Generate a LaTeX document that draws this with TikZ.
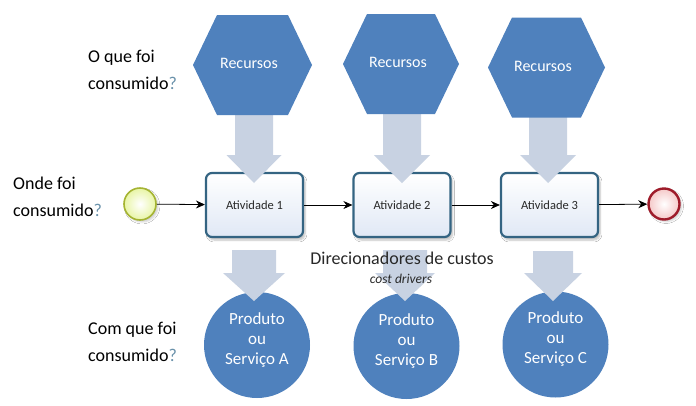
\documentclass[tikz,border=0pt]{standalone}
\usepackage{fontspec}
\setmainfont{Carlito}
\usetikzlibrary{arrows.meta,shadows.blur}
\definecolor{hexblue}{RGB}{79,129,189}
\definecolor{fatgray}{RGB}{200,210,226}
\definecolor{boxborder}{RGB}{52,100,130}
\definecolor{boxbottom}{RGB}{224,232,245}
\definecolor{qcol}{RGB}{105,145,170}
\definecolor{startborder}{RGB}{165,180,50}
\definecolor{startfill}{RGB}{232,245,165}
\definecolor{endborder}{RGB}{158,27,42}
\definecolor{endfill}{RGB}{245,200,200}
\definecolor{txtdark}{RGB}{40,40,40}
\newcommand{\fatdown}[6]{%
  \fill[fatgray] (#1-#5,#2) -- (#1+#5,#2) -- (#1+#5,#3) -- (#1+#6,#3) -- (#1,#4) -- (#1-#6,#3) -- (#1-#5,#3) -- cycle;}
\newcommand{\hexa}[3]{%
  \fill[hexblue] (#1-#3,#2) -- (#1-#3+24,#2-50) -- (#1+#3-24,#2-50) -- (#1+#3,#2) -- (#1+#3-24,#2+50) -- (#1-#3+24,#2+50) -- cycle;}
\tikzset{
  actbox/.style={draw=boxborder, line width=2.2pt, rounded corners=6pt,
    minimum width=97pt, minimum height=64pt, top color=white, bottom color=boxbottom,
    font=\fontsize{12.5}{14}\selectfont, text=txtdark,
    blur shadow={shadow xshift=2pt, shadow yshift=-3pt, shadow blur steps=6, shadow opacity=25}},
  prodcirc/.style={circle, fill=hexblue, minimum size=106pt, inner sep=0pt},
  prodtext/.style={align=center, text=white, font=\fontsize{17}{20}\selectfont},
  rectext/.style={text=white, font=\fontsize{16}{18}\selectfont},
  qlabel/.style={anchor=west, align=left, inner sep=0pt, text=black, font=\fontsize{18}{27}\selectfont},
  conn/.style={-{Stealth[length=9pt,width=8pt]}, line width=0.8pt, black},
  startev/.style={circle, draw=startborder, line width=1.6pt, inner color=white, outer color=startfill, minimum size=32pt, inner sep=0pt,
    blur shadow={shadow xshift=2pt, shadow yshift=-2pt, shadow opacity=20}},
  endev/.style={circle, draw=endborder, line width=2.4pt, inner color=white, outer color=endfill, minimum size=31pt, inner sep=0pt,
    blur shadow={shadow xshift=2pt, shadow yshift=-2pt, shadow opacity=20}}
}
\newcommand{\qm}{\textcolor{qcol}{?}}
\begin{document}
\begin{tikzpicture}[x=1pt, y=-1pt]
\fill[white] (0,0) rectangle (696,405);
\useasboundingbox (0,0) rectangle (696,405);
% events and activities
\node[startev] (st) at (140,204) {};
\node[endev] (en) at (664,204) {};
\node[actbox] (a1) at (254.5,205) {Atividade 1};
\node[actbox] (a2) at (402,205) {Atividade 2};
\node[actbox] (a3) at (549.5,205) {Atividade 3};
\draw[conn] (st) -- (a1);
\draw[conn] (a1) -- (a2);
\draw[conn] (a2) -- (a3);
\draw[conn] (a3) -- (en);
% products
\node[prodcirc] (p1) at (257,345) {};
\node[prodcirc] (p2) at (406.5,346) {};
\node[prodcirc] (p3) at (555.5,344.5) {};
% fat arrows
\fatdown{254}{110}{155}{183}{19}{27.5}
\fatdown{402}{110}{155}{183}{19}{28}
\fatdown{548}{112}{155}{183}{19}{28}
\fatdown{254}{250}{273}{301}{22}{31}
\fatdown{405}{250}{273}{301}{22}{30}
\fatdown{553}{251}{273}{301}{20}{29}
% hexagons
\hexa{252.5}{65}{59.5}
\hexa{401}{64}{58}
\hexa{546.5}{67.5}{58.5}
\node[rectext] (r1) at (249,63) {Recursos};
\node[rectext] (r2) at (398,62) {Recursos};
\node[rectext] (r3) at (543,66) {Recursos};
% product texts
\node[prodtext] (t1) at (p1.center) [yshift=5pt] {Produto\\ou\\Serviço A};
\node[prodtext] (t2) at (p2.center) [yshift=5pt] {Produto\\ou\\Serviço B};
\node[prodtext] (t3) at (p3.center) [yshift=5pt] {Produto\\ou\\Serviço C};
% cost drivers
\node[text=txtdark, font=\fontsize{18}{20}\selectfont] (cd) at (402,258) {Direcionadores de custos};
\node[text=txtdark, font=\fontsize{13.5}{15}\itshape] (cdi) at (401,279) {cost drivers};
% questions
\node[qlabel] (q1) at (88,70) {O que foi\\consumido\qm};
\node[qlabel] (q2) at (13,197) {Onde foi\\consumido\qm};
\node[qlabel] (q3) at (88,342) {Com que foi\\consumido\qm};
\end{tikzpicture}
\end{document}
